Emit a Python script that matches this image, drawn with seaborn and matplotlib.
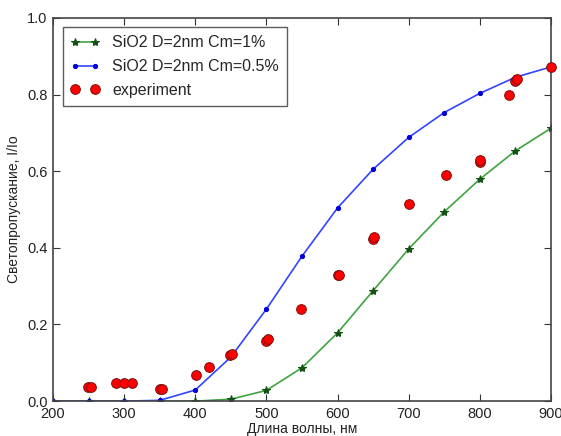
import matplotlib
matplotlib.use("Agg")
import matplotlib.pyplot as plt
import seaborn as sns
import pandas as pd

sns.set_style("ticks")
plt.rcParams['font.family'] = ['Liberation Sans', 'DejaVu Sans']

wl = [200, 250, 300, 350, 400, 450, 500, 550, 600, 650, 700, 750, 800, 850, 900]
cm1 = [0.0, 0.0, 0.0, 0.0, 0.0, 0.005, 0.028, 0.087, 0.178, 0.288, 0.397, 0.494, 0.579, 0.653, 0.712]
cm05 = [0.0, 0.0, 0.0, 0.002, 0.029, 0.115, 0.240, 0.378, 0.504, 0.605, 0.688, 0.753, 0.803, 0.845, 0.872]

exp_x = [249, 253, 289, 300, 311, 351, 353, 401, 420, 449, 452, 500, 502, 549, 601, 602,
         650, 651, 701, 752, 800, 801, 841, 850, 852, 900]
exp_y = [0.036, 0.036, 0.048, 0.048, 0.046, 0.032, 0.032, 0.067, 0.089, 0.120, 0.122,
         0.158, 0.163, 0.240, 0.329, 0.330, 0.423, 0.428, 0.514, 0.589, 0.625, 0.629,
         0.798, 0.834, 0.840, 0.872]

fig = plt.figure(figsize=(5.61, 4.36), dpi=100)
ax = fig.add_axes([0.0945, 0.080, 0.8875, 0.879])

sns.lineplot(x=wl, y=cm1, ax=ax, color='#3fa33f', lw=1.2, marker='*', markersize=6,
             markerfacecolor='#145214', markeredgecolor='#145214',
             label='SiO2 D=2nm Cm=1%')
sns.lineplot(x=wl, y=cm05, ax=ax, color='#3344ff', lw=1.2, marker='o', markersize=3,
             markerfacecolor='#0000dd', markeredgecolor='#0000dd',
             label='SiO2 D=2nm Cm=0.5%')
ax.plot(exp_x, exp_y, linestyle='none', marker='o', markersize=7,
        markerfacecolor='#ff0000', markeredgecolor='#7a1010', markeredgewidth=0.7,
        label='experiment', clip_on=False, zorder=5)

ax.set_xlim(200, 900)
ax.set_ylim(0, 1.0)
ax.set_xticks([200, 300, 400, 500, 600, 700, 800, 900])
ax.set_yticks([0.0, 0.2, 0.4, 0.6, 0.8, 1.0])
ax.set_yticklabels(['0.0', '0.2', '0.4', '0.6', '0.8', '1.0'])
ax.tick_params(direction='in', top=True, right=True, length=5, width=0.8,
               labelsize=10.5, colors='#333333', labelcolor='#222222', pad=4)
for s in ax.spines.values():
    s.set_color('#444444')
    s.set_linewidth(1.2)
ax.set_xlabel('Длина волны, нм', fontsize=10, color='#222222', labelpad=1)
ax.set_ylabel('Светопропускание, I/Io', fontsize=10, color='#222222')

leg = ax.legend(loc='upper left', numpoints=2, fontsize=11.5, frameon=True, fancybox=False,
                borderaxespad=0.6, handlelength=1.8, labelspacing=0.55, borderpad=0.5)
leg.get_frame().set_edgecolor('#333333')
leg.get_frame().set_linewidth(1.0)

fig.savefig('out.png', dpi=100)
